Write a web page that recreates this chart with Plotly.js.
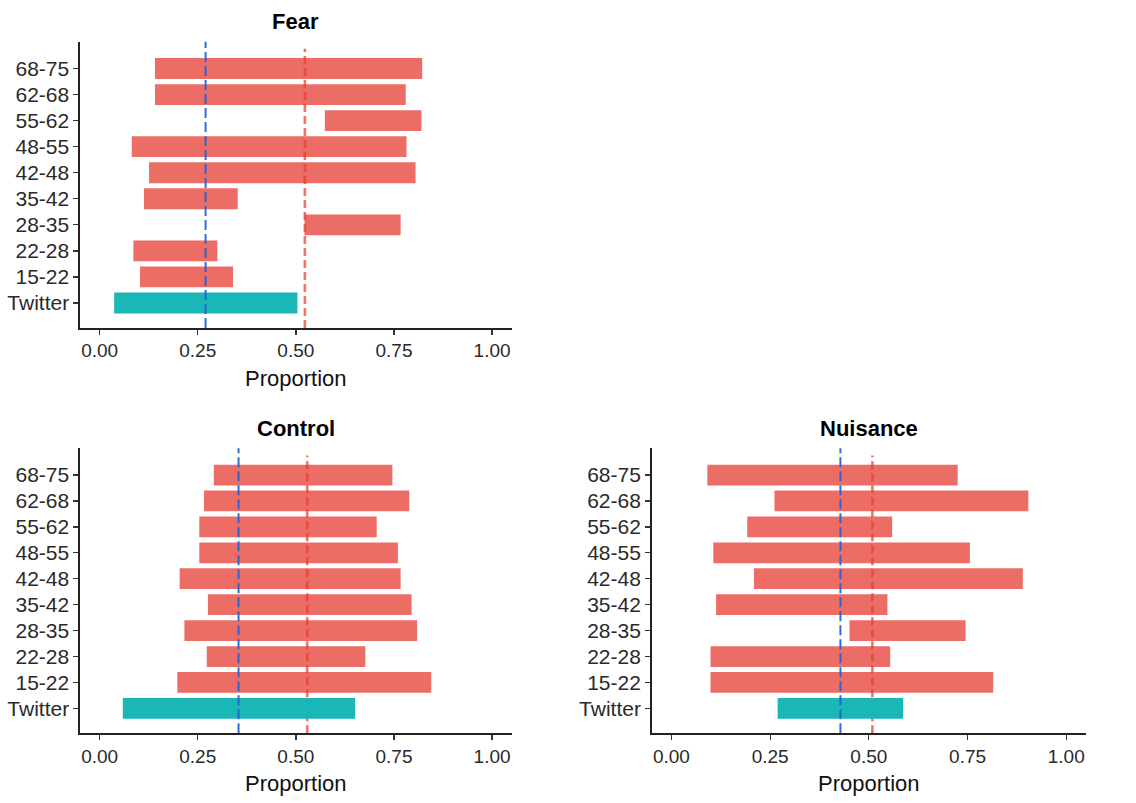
<!DOCTYPE html>
<html>
<head>
<meta charset="utf-8">
<script src="https://cdn.plot.ly/plotly-3.0.1.min.js"></script>
<style>html,body{margin:0;padding:0;background:#fff;}#chart{width:1136px;height:803px;}</style>
</head>
<body>
<div id="chart"></div>
<script>
const categories = ['Twitter','15-22','22-28','28-35','35-42','42-48','48-55','55-62','62-68','68-75'];
const xTicks = [0, 0.25, 0.5, 0.75, 1.0];
const xTickLabels = ['0.00','0.25','0.50','0.75','1.00'];

const fearLow  = [0.037,0.103,0.086,0.522,0.113,0.126,0.082,0.574,0.141,0.141];
const fearHigh = [0.504,0.340,0.300,0.767,0.352,0.805,0.782,0.820,0.780,0.822];
const fearBlue = 0.270;
const fearRed  = 0.523;

const controlLow  = [0.059,0.198,0.273,0.216,0.276,0.204,0.254,0.254,0.266,0.291];
const controlHigh = [0.651,0.845,0.677,0.809,0.795,0.767,0.760,0.706,0.789,0.746];
const controlBlue = 0.354;
const controlRed  = 0.529;

const nuisanceLow  = [0.269,0.099,0.099,0.451,0.113,0.209,0.106,0.192,0.261,0.091];
const nuisanceHigh = [0.587,0.815,0.554,0.745,0.547,0.890,0.756,0.559,0.904,0.725];
const nuisanceBlue = 0.428;
const nuisanceRed  = 0.509;

const panelTitles = ['Fear','Control','Nuisance'];

const RED = 'rgba(230,60,50,0.75)';
const TEAL = '#1bb6b6';
const FONT = 'Liberation Sans, Arial, Helvetica, sans-serif';

function barTrace(low, high, xa, ya) {
  return {
    type: 'bar', orientation: 'h',
    y: categories,
    base: low,
    x: high.map((h, i) => h - low[i]),
    width: 0.8,
    marker: { color: categories.map(c => c === 'Twitter' ? TEAL : RED), line: { width: 0 } },
    xaxis: xa, yaxis: ya,
    hoverinfo: 'skip', showlegend: false
  };
}

const data = [
  barTrace(fearLow, fearHigh, 'x', 'y'),
  barTrace(controlLow, controlHigh, 'x2', 'y2'),
  barTrace(nuisanceLow, nuisanceHigh, 'x3', 'y3')
];

function xAxis(domain, anchor) {
  return {
    domain: domain, anchor: anchor, range: [-0.05, 1.05],
    tickvals: xTicks, ticktext: xTickLabels,
    showgrid: false, zeroline: false,
    showline: true, linecolor: '#222', linewidth: 1.6,
    ticks: 'outside', ticklen: 5, tickwidth: 1.3, tickcolor: '#333',
    tickfont: { family: FONT, size: 19, color: '#2a2a2a' },
    title: { text: 'Proportion', font: { family: FONT, size: 22, color: '#111' }, standoff: 10 },
    fixedrange: true
  };
}
function yAxis(domain, anchor) {
  return {
    domain: domain, anchor: anchor, type: 'category',
    categoryorder: 'array', categoryarray: categories,
    range: [-0.96, 10.03],
    showgrid: false, zeroline: false,
    showline: true, linecolor: '#222', linewidth: 1.6,
    ticks: 'outside', ticklen: 5, tickwidth: 1.3, tickcolor: '#333',
    tickfont: { family: FONT, size: 21, color: '#2a2a2a' },
    fixedrange: true
  };
}

const xDomL = [80/1136, 511.7/1136];
const xDomR = [651.7/1136, 1086/1136];
const yDomTop = [1 - 328/803, 1 - 41.7/803];
const yDomBot = [1 - 733.3/803, 1 - 448.3/803];

function vline(xv, xa, ya, color, width, dash, layer, top) {
  return {
    type: 'line', xref: xa, yref: ya + ' domain',
    x0: xv, x1: xv, y0: 0, y1: top,
    line: { color: color, width: width, dash: dash }, layer: layer
  };
}
const BLUE = 'rgba(35,100,215,0.95)';
const REDLINE = 'rgba(232,64,42,0.72)';
const shapes = [
  vline(fearRed, 'x', 'y', REDLINE, 2.6, '8px,4px', 'below', 0.975),
  vline(controlRed, 'x2', 'y2', REDLINE, 2.6, '8px,4px', 'below', 0.975),
  vline(nuisanceRed, 'x3', 'y3', REDLINE, 2.6, '8px,4px', 'below', 0.975),
  vline(fearBlue, 'x', 'y', BLUE, 2, '10px,4px', 'above', 1),
  vline(controlBlue, 'x2', 'y2', BLUE, 2, '10px,4px', 'above', 1),
  vline(nuisanceBlue, 'x3', 'y3', BLUE, 2, '10px,4px', 'above', 1)
];

function titleAnn(text, xa, yPaper) {
  return {
    text: '<b>' + text + '</b>', xref: xa + ' domain', x: 0.5, yref: 'paper', y: yPaper,
    xanchor: 'center', yanchor: 'middle', showarrow: false,
    font: { family: FONT, size: 22, color: '#000' }
  };
}

const layout = {
  width: 1136, height: 803,
  margin: { l: 0, r: 0, t: 0, b: 0 },
  paper_bgcolor: '#fff', plot_bgcolor: '#fff',
  barmode: 'overlay',
  showlegend: false,
  xaxis: xAxis(xDomL, 'y'),
  yaxis: yAxis(yDomTop, 'x'),
  xaxis2: xAxis(xDomL, 'y2'),
  yaxis2: yAxis(yDomBot, 'x2'),
  xaxis3: xAxis(xDomR, 'y3'),
  yaxis3: yAxis(yDomBot, 'x3'),
  shapes: shapes,
  annotations: [
    titleAnn(panelTitles[0], 'x', 1 - 21.7/803),
    titleAnn(panelTitles[1], 'x2', 1 - 428.3/803),
    titleAnn(panelTitles[2], 'x3', 1 - 428.3/803)
  ]
};

Plotly.newPlot('chart', data, layout, { staticPlot: true, displayModeBar: false });
</script>
</body>
</html>
